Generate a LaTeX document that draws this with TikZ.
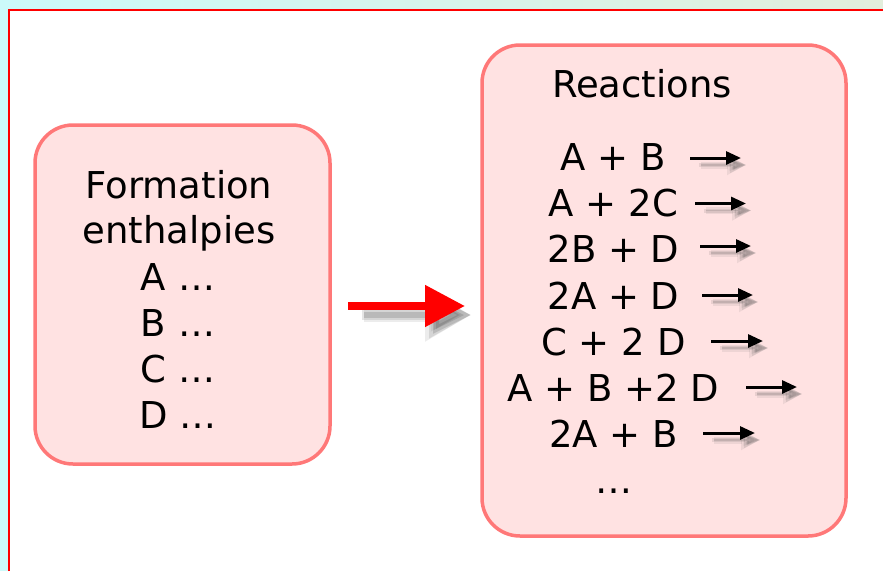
\documentclass[tikz,border=0pt]{standalone}
\usepackage{fontspec}
\setmainfont{DejaVu Sans}
\usetikzlibrary{arrows.meta}
\definecolor{bgcyan}{HTML}{CCFAFA}
\definecolor{bggreen}{HTML}{E2EEDC}
\definecolor{boxfill}{HTML}{FFE2E2}
\definecolor{boxdraw}{HTML}{FF7878}
\definecolor{arrred}{HTML}{FF0000}
\begin{document}
\begin{tikzpicture}[x=1pt,y=-1pt,
  box/.style={draw=boxdraw, fill=boxfill, line width=3.5pt, rounded corners=38pt, inner sep=0pt},
  txt/.style={font=\fontsize{37}{44}\selectfont, text=black, inner sep=0pt, anchor=base},
  rxn/.style={black, line width=3pt, -{Triangle[length=15pt,width=13pt]}},
  sshift/.style={transform canvas={xshift=5pt,yshift=-7pt}},
  rxnshA/.style={black!70, opacity=0.09, line width=7pt, -{Triangle[length=19pt,width=19pt]}, sshift},
  rxnshB/.style={black!70, opacity=0.12, line width=4pt, -{Triangle[length=16pt,width=15pt]}, sshift},
  rxnshC/.style={black!70, opacity=0.16, line width=1.5pt, -{Triangle[length=13pt,width=10pt]}, sshift},
  bigarrow/.style={arrred, line width=8pt, -{Triangle[length=40pt,width=40pt]}},
  bshift/.style={transform canvas={xshift=6pt,yshift=-9pt}},
  bigshA/.style={black!70, opacity=0.10, line width=14pt, -{Triangle[length=46pt,width=50pt]}, bshift},
  bigshB/.style={black!70, opacity=0.14, line width=10pt, -{Triangle[length=42pt,width=44pt]}, bshift},
  bigshC/.style={black!70, opacity=0.20, line width=6pt, -{Triangle[length=38pt,width=36pt]}, bshift},
]
\useasboundingbox (0,0) rectangle (883,571);
% background and frame
\fill[bgcyan] (0,0) rectangle (883,571);
\shade[left color=bgcyan, right color=bggreen] (0,0) rectangle (883,9);
\fill[white] (9,10) rectangle (883,571);
\draw[red, line width=2pt] (8.5,571) -- (8.5,9.5) -- (883,9.5);

% boxes
\node[box, minimum width=295pt, minimum height=339pt] (L) at (182.5,294.5) {};
\node[box, minimum width=364pt, minimum height=491pt] (R) at (664,290.5) {};

% left box text
\node[txt] (l1) at (179,198) {Formation};
\node[txt] (l2) at (179,243.5) {enthalpies};
\node[txt] (l3) at (178,290) {A …};
\node[txt] (l4) at (178,336) {B …};
\node[txt] (l5) at (178,382.5) {C …};
\node[txt] (l6) at (178,428.5) {D …};

% right box text
\node[txt] (rt) at (642,97) {Reactions};
\foreach \i/\t/\b/\xs/\xe/\ay in {
  1/{A + B}/170/690/741/158,
  2/{A + 2C}/216.5/695/746/203.5,
  3/{2B + D}/262.5/700/751/246,
  4/{2A + D}/309/702/753/295,
  5/{C + 2 D}/355/711/763/341,
  6/{A + B +2 D}/401/746/797/387,
  7/{2A + B}/447/703/755/433}{
  \node[txt] (r\i) at (613.5,\b) {\t};
  \coordinate (s\i) at (\xs,\ay);
  \coordinate (e\i) at (\xe,\ay);
  \draw[rxnshA] ([xshift=6pt]s\i) -- (e\i);
  \draw[rxnshB] ([xshift=4pt]s\i) -- (e\i);
  \draw[rxnshC] ([xshift=6pt]s\i) -- (e\i);
  \draw[rxn] (s\i) -- (e\i);
}
\node[txt] (rd) at (613.5,493) {…};

% big red arrow
\coordinate (ra) at (348,306);
\coordinate (rb) at (465,306);
\draw[bigshA] ([xshift=10pt]ra) -- (rb);
\draw[bigshB] ([xshift=8pt]ra) -- (rb);
\draw[bigshC] ([xshift=10pt]ra) -- (rb);
\draw[bigarrow] (ra) -- (rb);
\end{tikzpicture}
\end{document}
